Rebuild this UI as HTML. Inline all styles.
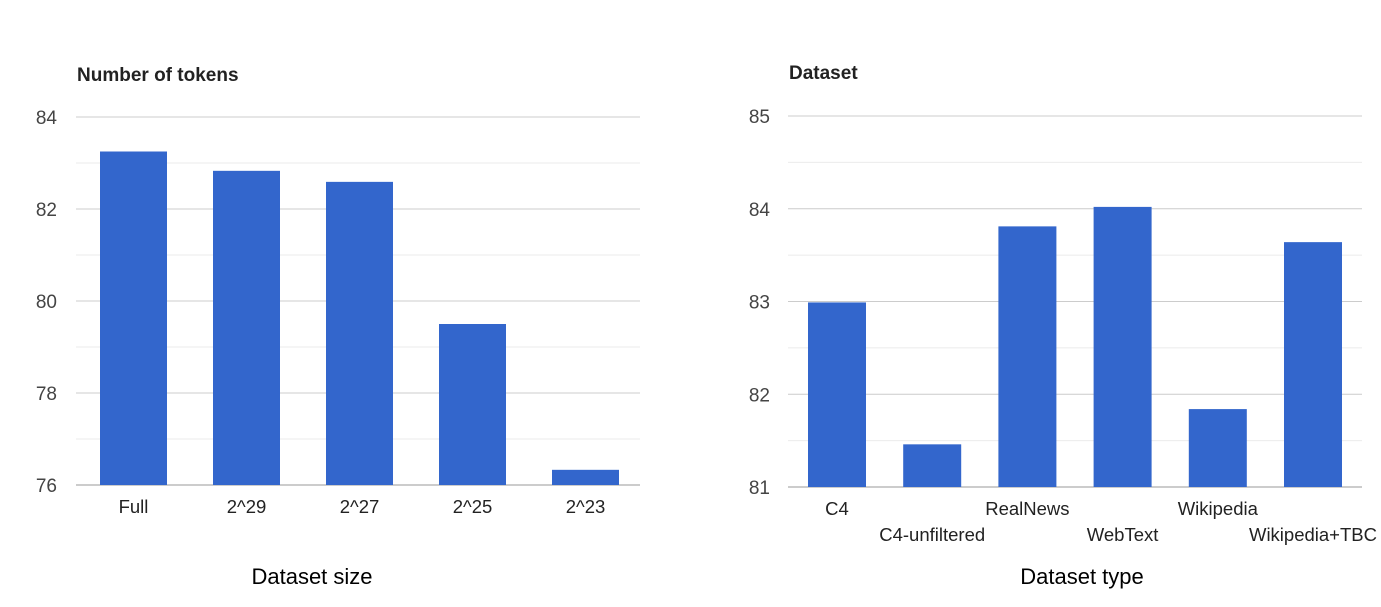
<!DOCTYPE html>
<html><head><meta charset="utf-8"><style>
html,body{margin:0;padding:0;background:#fff;overflow:hidden;}
svg{display:block;font-family:"Liberation Sans",Arial,sans-serif;}
</style></head><body>
<svg id="c" width="1381" height="607" viewBox="0 0 1381 607"></svg>
<script>
const leftCats=["Full","2^29","2^27","2^25","2^23"];
const leftVals=[83.25,82.83,82.59,79.5,76.33];
const leftTicks=[76,78,80,82,84];
const rightCats=["C4","C4-unfiltered","RealNews","WebText","Wikipedia","Wikipedia+TBC"];
const rightVals=[82.99,81.46,83.81,84.02,81.84,83.64];
const rightTicks=[81,82,83,84,85];

const svg=document.getElementById('c');
const NS="http://www.w3.org/2000/svg";
function mk(tag,attrs,parent){const e=document.createElementNS(NS,tag);for(const k in attrs)e.setAttribute(k,attrs[k]);(parent||svg).appendChild(e);return e;}

function drawChart(cfg,cats,vals,ticks){
  const g=mk('g',{});
  
  
  const min=ticks[0],max=ticks[ticks.length-1];
  const y=v=>cfg.y0-(v-min)*(cfg.y0-cfg.y1)/(max-min);
  for(let i=0;i<ticks.length-1;i++){
    const mv=(ticks[i]+ticks[i+1])/2;
    const l=mk('line',{x1:cfg.gx0,x2:cfg.gx1,y1:y(mv),y2:y(mv),stroke:'#ebebeb','stroke-width':1},g);
    
    
  }
  ticks.forEach((t,i)=>{
    const l=mk('line',{x1:cfg.gx0,x2:cfg.gx1,y1:y(t),y2:y(t),stroke:i==0?'#999':'#cccccc','stroke-width':1},g);
    
    
    const tx=mk('text',{x:cfg.tickX,y:y(t)+7,'text-anchor':'end','font-size':19,fill:'#444'},g);
    tx.textContent=t;
    
    
  });
  const bw=cfg.bw;
  vals.forEach((v,i)=>{
    const cx=cfg.c0+i*cfg.step;
    const r=mk('rect',{x:cx-bw/2,y:y(v),width:bw,height:y(min)-y(v),fill:'#3366cc'},g);
    
    
    const low=cfg.stagger&&i%2==1;
    const tx=mk('text',{x:cx,y:cfg.y0+(low?54:28),'text-anchor':'middle','font-size':18.5,fill:'#222'},g);
    tx.textContent=cats[i];
    
    
  });
  const t=mk('text',{x:cfg.gx0+1,y:cfg.titleY,'font-size':19,'font-weight':'bold',fill:'#222'},g);
  t.textContent=cfg.title;
  
  
  const xt=mk('text',{x:cfg.xtX,y:584,'text-anchor':'middle','font-size':22,fill:'#000'},g);
  xt.textContent=cfg.xtitle;
  
  
}
drawChart({name:'dataset-size-chart',y0:485,y1:117,gx0:76,gx1:640,tickX:57,c0:133.5,step:113,bw:67,title:'Number of tokens',titleY:81,xtitle:'Dataset size',xtX:312,stagger:false},leftCats,leftVals,leftTicks);
drawChart({name:'dataset-type-chart',y0:487,y1:116,gx0:788,gx1:1362,tickX:770,c0:837,step:95.2,bw:58,title:'Dataset',titleY:79,xtitle:'Dataset type',xtX:1082,stagger:true},rightCats,rightVals,rightTicks);
</script>
</body></html>
